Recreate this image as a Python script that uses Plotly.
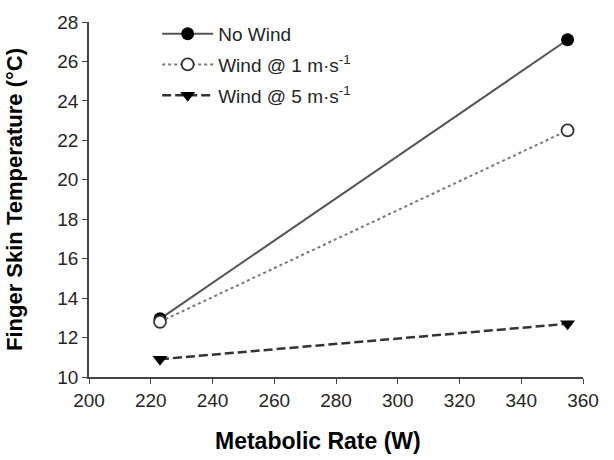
import plotly.graph_objects as go

metabolic_rate = [223, 355]
no_wind = [12.95, 27.1]
wind_1 = [12.8, 22.5]
wind_5 = [10.9, 12.7]

series_names = ["No Wind", "Wind @ 1 m·s<sup>-1</sup>", "Wind @ 5 m·s<sup>-1</sup>"]

x_ticks = [200, 220, 240, 260, 280, 300, 320, 340, 360]
y_ticks = [10, 12, 14, 16, 18, 20, 22, 24, 26, 28]

FONT = "Liberation Sans, Arial, sans-serif"

fig = go.Figure()
fig.add_trace(go.Scatter(
    x=metabolic_rate, y=no_wind, name=series_names[0], mode="lines+markers",
    line=dict(color="#555555", width=2, dash="solid"),
    marker=dict(symbol="circle", size=13, color="#000000"),
    legendgroup="a"))
fig.add_trace(go.Scatter(
    x=metabolic_rate, y=wind_1, name=series_names[1], mode="lines+markers",
    line=dict(color="#777777", width=2, dash="dot"),
    marker=dict(symbol="circle", size=12, color="#ffffff",
                line=dict(color="#333333", width=1.8)),
    legendgroup="b"))
fig.add_trace(go.Scatter(
    x=metabolic_rate, y=wind_5, name=series_names[2], mode="lines+markers",
    line=dict(color="#333333", width=2.5, dash="9px,4px"),
    marker=dict(symbol="triangle-down", size=13, color="#000000"),
    legendgroup="c"))

fig.update_layout(
    width=614, height=460,
    margin=dict(l=89, r=31, t=22, b=83),
    paper_bgcolor="white", plot_bgcolor="white",
    font=dict(family=FONT, color="#262626", size=19),
    showlegend=True,
    legend=dict(x=0.138, y=1.02, xanchor="left", yanchor="top",
                bgcolor="rgba(0,0,0,0)", font=dict(size=19, color="#262626"),
                traceorder="grouped", tracegroupgap=3, itemwidth=51),
    xaxis=dict(range=[200, 360], tickvals=x_ticks, ticks="outside", ticklen=5,
               tickcolor="#444444", showline=True, linecolor="#444444", linewidth=1.5,
               showgrid=False, zeroline=False, tickfont=dict(size=19)),
    yaxis=dict(range=[10, 28], tickvals=y_ticks, ticks="outside", ticklen=5,
               tickcolor="#444444", showline=True, linecolor="#444444", linewidth=1.5,
               showgrid=False, zeroline=False, tickfont=dict(size=19),
               title=dict(text="<b>Finger Skin Temperature (°C)</b>", font=dict(size=22, color="#000000"),
                          standoff=29)),
    annotations=[dict(text="<b>Metabolic Rate (W)</b>", xref="paper", yref="paper",
                      x=0.4636, y=-0.18, xanchor="center", yanchor="middle",
                      showarrow=False, font=dict(size=23, color="#000000"))],
)

fig.write_html("out.html")
